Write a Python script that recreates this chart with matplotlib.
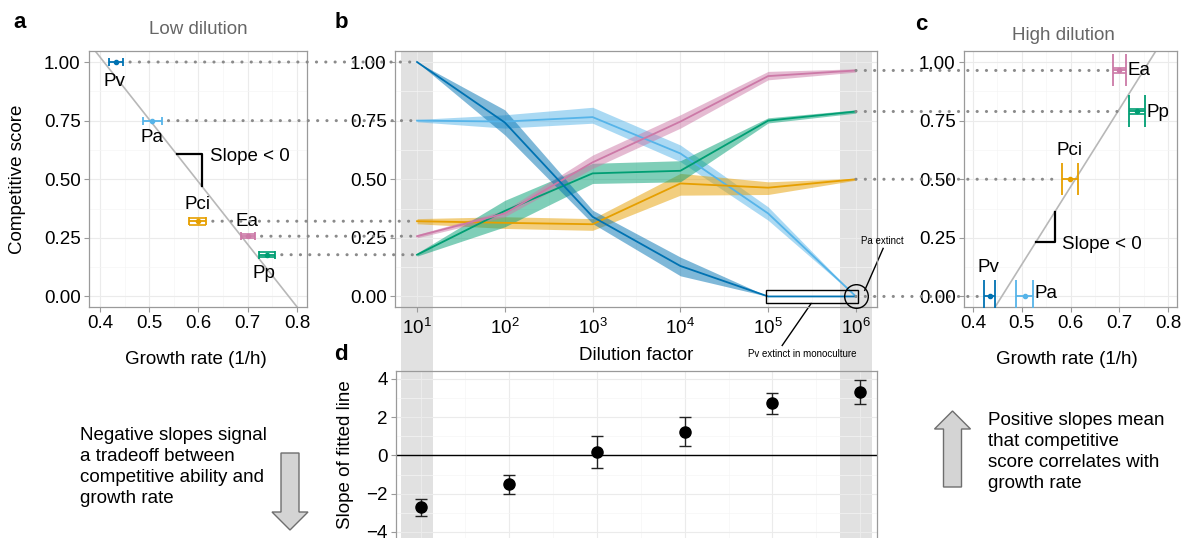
import numpy as np
import matplotlib
matplotlib.use('Agg')
import matplotlib.pyplot as plt
from matplotlib.patches import ConnectionPatch, FancyArrow, Rectangle
from matplotlib.transforms import IdentityTransform, blended_transform_factory
from matplotlib.ticker import FixedLocator, NullFormatter, MultipleLocator

plt.rcParams['font.family'] = ['Liberation Sans', 'DejaVu Sans']
plt.rcParams['mathtext.fontset'] = 'custom'
plt.rcParams['mathtext.rm'] = 'Liberation Sans'

W, H = 1183, 538

species = ['Pv', 'Pa', 'Pci', 'Ea', 'Pp']
colors = {'Pv': '#0072B2', 'Pa': '#56B4E9', 'Pci': '#E69F00', 'Ea': '#CC79A7', 'Pp': '#009E73'}

# b: competitive score vs dilution factor (mean and ribbon)
dilution = [1e1, 1e2, 1e3, 1e4, 1e5, 1e6]
score = {
    'Pv': [1.00, 0.742, 0.340, 0.130, 0.000, 0.000],
    'Pa': [0.750, 0.746, 0.765, 0.610, 0.354, 0.000],
    'Pci': [0.321, 0.314, 0.308, 0.482, 0.464, 0.500],
    'Ea': [0.257, 0.354, 0.572, 0.746, 0.940, 0.964],
    'Pp': [0.178, 0.365, 0.525, 0.536, 0.750, 0.789],
}
score_lo = {
    'Pv': [1.00, 0.689, 0.311, 0.088, 0.000, 0.000],
    'Pa': [0.745, 0.718, 0.739, 0.575, 0.325, 0.000],
    'Pci': [0.310, 0.290, 0.282, 0.432, 0.435, 0.496],
    'Ea': [0.250, 0.340, 0.546, 0.718, 0.924, 0.957],
    'Pp': [0.172, 0.297, 0.482, 0.489, 0.740, 0.782],
}
score_hi = {
    'Pv': [1.00, 0.796, 0.368, 0.168, 0.000, 0.000],
    'Pa': [0.755, 0.775, 0.807, 0.646, 0.382, 0.000],
    'Pci': [0.332, 0.340, 0.332, 0.525, 0.489, 0.504],
    'Ea': [0.264, 0.368, 0.603, 0.775, 0.960, 0.971],
    'Pp': [0.185, 0.410, 0.568, 0.579, 0.762, 0.796],
}

# a: low dilution, c: high dilution
low_growth = [0.433, 0.506, 0.598, 0.700, 0.739]
low_growth_err = [0.014, 0.019, 0.017, 0.014, 0.016]
low_score = [score[s][0] for s in species]
low_score_err = [0.0, 0.0, 0.015, 0.008, 0.010]

high_growth = [0.434, 0.506, 0.599, 0.700, 0.736]
high_growth_err = [0.012, 0.018, 0.017, 0.013, 0.016]
high_score = [score[s][-1] for s in species]
high_score_err = [0.0, 0.0, 0.0, 0.010, 0.010]

# d: slope of fitted line
slope = [-2.68, -1.51, 0.18, 1.25, 2.72, 3.30]
slope_lo = [-3.16, -2.02, -0.65, 0.49, 2.18, 2.68]
slope_hi = [-2.28, -1.00, 1.02, 2.00, 3.25, 3.95]

FRAME = '#9a9a9a'
FS = 13.5


def box(l, t, r, b):
    return [l / W, 1 - b / H, (r - l) / W, (b - t) / H]


def px(x, y):
    return x / W, 1 - y / H


def style(ax):
    for sp in ax.spines.values():
        sp.set_color(FRAME)
        sp.set_linewidth(0.9)
    ax.tick_params(which='major', length=3.5, width=0.8, color=FRAME, labelsize=FS, pad=2.5)
    ax.tick_params(which='minor', length=0)
    ax.grid(which='major', color='#ebebeb', lw=0.8)
    ax.grid(which='minor', color='#f5f5f5', lw=0.5)
    ax.set_axisbelow(True)


def growth_panel(ax, growth, gerr, sc, serr, capsize, label_off, xlim):
    for i, s in enumerate(species):
        ax.errorbar(growth[i], sc[i], xerr=gerr[i], fmt='o', ms=3, color=colors[s],
                    capsize=capsize, elinewidth=1.3, capthick=1.3, zorder=3)
        if serr[i] > 0:
            ax.hlines([sc[i] - serr[i], sc[i] + serr[i]], growth[i] - gerr[i], growth[i] + gerr[i],
                      color=colors[s], lw=1.2, zorder=3)
        dx, dy, ha = label_off[s]
        ax.text(growth[i] + dx, sc[i] + dy, s, ha=ha, va='center', fontsize=FS)
    m, b0 = np.polyfit(growth, sc, 1)
    ax.axline((0, b0), slope=m, color='#b8b8b8', lw=1.2, zorder=2)
    ax.set_xlim(*xlim)
    ax.set_ylim(-0.045, 1.047)
    ax.xaxis.set_major_locator(MultipleLocator(0.1))
    ax.xaxis.set_minor_locator(MultipleLocator(0.05))
    ax.yaxis.set_major_locator(MultipleLocator(0.25))
    ax.yaxis.set_minor_locator(MultipleLocator(0.125))
    ax.yaxis.set_major_formatter(lambda v, p: f'{v:.2f}')
    ax.xaxis.set_major_formatter(lambda v, p: f'{v:.1f}')
    style(ax)
    return lambda x: m * x + b0


fig = plt.figure(figsize=(W / 100, H / 100), dpi=100)

ax_a = fig.add_axes(box(89, 51, 307, 307))
ax_b = fig.add_axes(box(395, 51, 877, 307))
ax_c = fig.add_axes(box(964, 51, 1177, 307))
ax_d = fig.add_axes(box(396, 371, 877, 538))
ax_b.set_facecolor('none')
ax_d.set_facecolor('none')

# ---- panel a
lab_a = {'Pv': (-0.003, -0.085, 'center'), 'Pa': (0.0, -0.07, 'center'),
         'Pci': (0.0, 0.073, 'center'), 'Ea': (-0.002, 0.063, 'center'),
         'Pp': (-0.006, -0.08, 'center')}
fa = growth_panel(ax_a, low_growth, low_growth_err, low_score, low_score_err, 2.9, lab_a, (0.3777, 0.8203))
x1, x2 = 0.556, 0.607
ax_a.plot([x1, x2, x2], [fa(x1), fa(x1), fa(x2)], color='black', lw=1.6, zorder=4)
ax_a.text(0.623, fa(x1) - 0.01, 'Slope < 0', ha='left', va='center', fontsize=FS)

# ---- panel c
lab_c = {'Pv': (-0.003, 0.124, 'center'), 'Pa': (0.021, 0.013, 'left'),
         'Pci': (-0.002, 0.124, 'center'), 'Ea': (0.016, 0.0, 'left'),
         'Pp': (0.019, -0.003, 'left')}
fc = growth_panel(ax_c, high_growth, high_growth_err, high_score, high_score_err, 11.5, lab_c, (0.3815, 0.8185))
x1, x2 = 0.529, 0.568
ax_c.plot([x2, x2, x1], [fc(x2), fc(x1), fc(x1)], color='black', lw=1.6, zorder=4)
ax_c.text(0.583, fc(x1) - 0.012, 'Slope < 0', ha='left', va='center', fontsize=FS)

# ---- panel b
band_tr = blended_transform_factory(ax_b.transData, fig.transFigure)
for c in (dilution[0], dilution[-1]):
    fig.add_artist(Rectangle((c * 10 ** -0.18, 0), c * (10 ** 0.18 - 10 ** -0.18), 1 - 51 / H,
                             transform=band_tr, facecolor='#e1e1e1', edgecolor='none', zorder=-1))

for s in ['Pa', 'Pci', 'Pp', 'Ea', 'Pv']:
    ax_b.fill_between(dilution, score_lo[s], score_hi[s], color=colors[s], alpha=0.5, lw=0, zorder=2)
    ax_b.plot(dilution, score[s], color=colors[s], lw=1.3, zorder=3)
ax_b.set_xscale('log')
ax_b.set_xlim(10 ** 0.749, 10 ** 6.24)
ax_b.set_ylim(-0.045, 1.047)
ax_b.xaxis.set_major_locator(FixedLocator(dilution))
ax_b.xaxis.set_minor_locator(FixedLocator([10 ** (k + 0.5) for k in range(1, 6)]))
ax_b.xaxis.set_minor_formatter(NullFormatter())
ax_b.yaxis.set_major_locator(MultipleLocator(0.25))
ax_b.yaxis.set_minor_locator(MultipleLocator(0.125))
ax_b.yaxis.set_major_formatter(lambda v, p: f'{v:.2f}')
style(ax_b)
ax_b.tick_params(axis='x', pad=4)

# extinction annotations
ax_b.add_patch(Rectangle((10 ** 4.97, -0.026), 10 ** 6.02 - 10 ** 4.97, 0.052,
                         facecolor='none', edgecolor='black', lw=1.0, zorder=4))
ax_b.plot([dilution[-1]], [0], 'o', ms=17, mfc='none', mec='black', mew=1.0, clip_on=False, zorder=4)
ax_b.plot([10 ** 6.10, 10 ** 6.31], [0.026, 0.205], color='black', lw=1.0, clip_on=False)
ax_b.text(10 ** 6.057, 0.235, 'Pa extinct', fontsize=7, ha='left', va='center')
ax_b.plot([10 ** 5.49, 10 ** 5.16], [-0.030, -0.209], color='black', lw=1.0, clip_on=False)
ax_b.text(10 ** 5.387, -0.244, 'Pv extinct in monoculture', fontsize=7, ha='center', va='center')

# ---- panel d
ax_d.errorbar(dilution, slope, yerr=[np.subtract(slope, slope_lo), np.subtract(slope_hi, slope)],
              fmt='o', ms=8, color='black', ecolor='#222222', elinewidth=1.0, capsize=4, capthick=1.0, zorder=3)
ax_d.axhline(0, color='black', lw=1.0, zorder=2)
ax_d.set_xscale('log')
ax_d.set_xlim(10 ** 0.715, 10 ** 6.19)
ax_d.set_ylim(-4.314, 4.418)
ax_d.xaxis.set_major_locator(FixedLocator(dilution))
ax_d.xaxis.set_minor_locator(FixedLocator([10 ** (k + 0.5) for k in range(1, 6)]))
ax_d.xaxis.set_minor_formatter(NullFormatter())
ax_d.yaxis.set_major_locator(MultipleLocator(2))
ax_d.yaxis.set_minor_locator(MultipleLocator(1))
style(ax_d)
ax_d.tick_params(axis='x', which='both', length=0, labelbottom=False)
ax_d.spines['bottom'].set_visible(False)

# ---- dotted connectors
dot_kw = dict(color='#8a8a8a', lw=2.2, linestyle=(0, (0.05, 3.0)), capstyle='round', zorder=5)
for i, s in enumerate(species):
    fig.add_artist(ConnectionPatch(
        xyA=(low_growth[i] + low_growth_err[i] + 0.014, low_score[i]), coordsA='data', axesA=ax_a,
        xyB=(dilution[0], score[s][0]), coordsB='data', axesB=ax_b, **dot_kw))
seen = set()
for i, s in enumerate(species):
    if high_score[i] in seen:
        continue
    seen.add(high_score[i])
    fig.add_artist(ConnectionPatch(
        xyA=(dilution[-1], score[s][-1]), coordsA='data', axesA=ax_b,
        xyB=(high_growth[i] - high_growth_err[i] - 0.01, high_score[i]), coordsB='data', axesB=ax_c, **dot_kw))

# ---- labels and titles
fig.text(*px(198, 30), 'Low dilution', ha='center', va='center', fontsize=FS, color='#666666')
fig.text(*px(1063, 35), 'High dilution', ha='center', va='center', fontsize=FS, color='#666666')
fig.text(*px(18, 179), 'Competitive score', ha='center', va='center', rotation=90, fontsize=FS)
fig.text(*px(196, 360), 'Growth rate (1/h)', ha='center', va='center', fontsize=FS)
fig.text(*px(1067, 359), 'Growth rate (1/h)', ha='center', va='center', fontsize=FS)
fig.text(*px(636, 355), 'Dilution factor', ha='center', va='center', fontsize=FS)
fig.text(*px(346, 455), 'Slope of fitted line', ha='center', va='center', rotation=90, fontsize=FS)
for letter, x, y in [('a', 20, 22), ('b', 341, 22), ('c', 921, 24), ('d', 341, 354)]:
    fig.text(*px(x, y), letter, ha='center', va='center', fontsize=16, fontweight='bold')

fig.text(*px(80, 427), 'Negative slopes signal\na tradeoff between\ncompetitive ability and\ngrowth rate',
         ha='left', va='top', fontsize=FS, linespacing=1.3)
fig.text(*px(988, 412), 'Positive slopes mean\nthat competitive\nscore correlates with\ngrowth rate',
         ha='left', va='top', fontsize=FS, linespacing=1.3)

arrow_kw = dict(width=18, head_width=36, head_length=18, length_includes_head=True,
                facecolor='#d4d4d4', edgecolor='#6e6e6e', lw=1.0, transform=IdentityTransform())
fig.add_artist(FancyArrow(290, H - 453, 0, -(530 - 453), **arrow_kw))
fig.add_artist(FancyArrow(952.5, H - 487, 0, 487 - 411, **arrow_kw))

fig.savefig('out.png', dpi=100)
